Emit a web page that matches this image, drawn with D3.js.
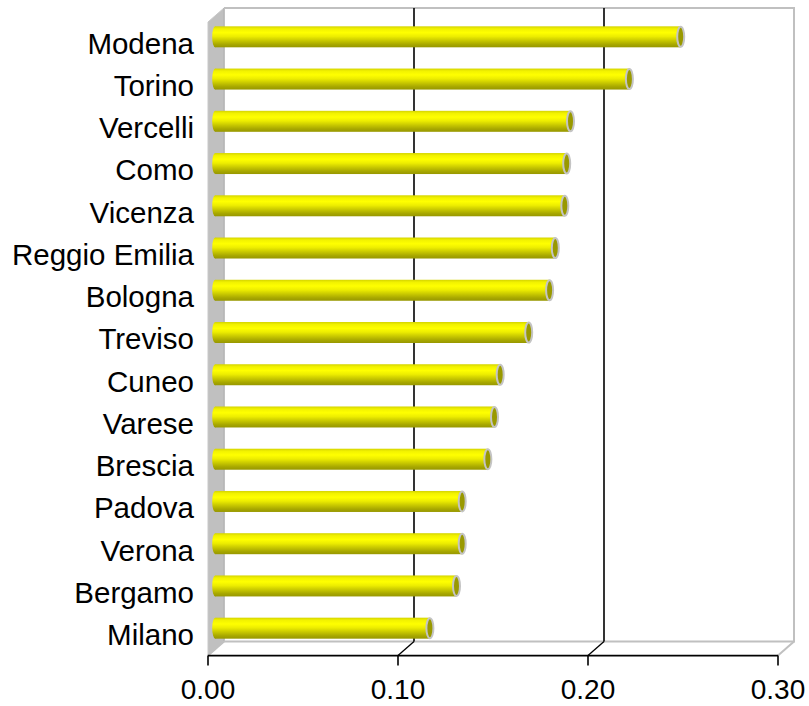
<!DOCTYPE html>
<html>
<head>
<meta charset="utf-8">
<script src="https://cdn.jsdelivr.net/npm/d3@7"></script>
<style>
  html, body { margin: 0; padding: 0; background: #fff; }
  svg { display: block; }
  text { font-family: "Liberation Sans", Arial, sans-serif; fill: #000; }
</style>
</head>
<body>
<svg id="chart" width="809" height="706"></svg>
<script>
// Province values (top to bottom)
const categories = ["Modena", "Torino", "Vercelli", "Como", "Vicenza", "Reggio Emilia",
  "Bologna", "Treviso", "Cuneo", "Varese", "Brescia", "Padova", "Verona", "Bergamo", "Milano"];
const values = [0.245, 0.218, 0.187, 0.185, 0.184, 0.179, 0.176, 0.165, 0.150, 0.147,
  0.1435, 0.130, 0.130, 0.127, 0.113];
const tickValues = [0.00, 0.10, 0.20, 0.30];

const svg = d3.select("#chart");

// Back plane of the 3D box
const back = { left: 224, right: 794, top: 8, bottom: 641.6 };
// Depth offset: front plane is shifted left/down
const depth = { dx: -16, dy: 14 };

const x = d3.scaleLinear().domain([0, 0.30]).range([back.left, back.right]);
const y = d3.scaleBand().domain(categories).range([back.top, back.bottom]).paddingInner(0).paddingOuter(0);

// project a back-plane point to a given depth fraction (0 = back, 1 = front)
const P = (px, py, f) => [px + depth.dx * f, py + depth.dy * f];

const defs = svg.append("defs");
const grad = defs.append("linearGradient").attr("id", "cyl")
  .attr("x1", 0).attr("y1", 0).attr("x2", 0).attr("y2", 1);
[[0, "#d4d400"], [0.12, "#f2f200"], [0.3, "#ffff00"], [0.48, "#eded00"],
 [0.68, "#c8c800"], [0.86, "#a8a800"], [1, "#979700"]].forEach(([o, c]) =>
  grad.append("stop").attr("offset", o).attr("stop-color", c));

// Left side wall
const wall = [P(back.left, back.top, 0), P(back.left, back.bottom, 0),
  P(back.left, back.bottom, 1), P(back.left, back.top, 1)];
svg.append("polygon").attr("points", wall.map(p => p.join(",")).join(" "))
  .attr("fill", "#c0c0c0").attr("stroke", "#c8c8c8").attr("stroke-width", 1);
svg.append("line")
  .attr("x1", back.left).attr("x2", back.left)
  .attr("y1", back.top).attr("y2", back.bottom)
  .attr("stroke", "#b4b4b4").attr("stroke-width", 1.5);

// Back wall outline (top and right edges) and floor back edge
svg.append("path")
  .attr("d", `M${back.left},${back.top}H${back.right}V${back.bottom}H${back.left}`)
  .attr("fill", "none").attr("stroke", "#c0c0c0").attr("stroke-width", 2);

// Gridlines on the back wall and floor
const inner = tickValues.filter(v => v > 0 && v < 0.30);
inner.forEach(v => {
  const bx = x(v);
  svg.append("line").attr("x1", bx).attr("x2", bx)
    .attr("y1", back.top).attr("y2", back.bottom)
    .attr("stroke", "#000").attr("stroke-width", 1.6);
});
tickValues.forEach(v => {
  const a = P(x(v), back.bottom, 0), b = P(x(v), back.bottom, 1);
  const edge = (v === 0 || v === 0.30);
  svg.append("line").attr("x1", a[0]).attr("y1", a[1]).attr("x2", b[0]).attr("y2", b[1])
    .attr("stroke", edge ? "#c0c0c0" : "#000").attr("stroke-width", edge ? 2 : 1.3);
});

// Front axis line with ticks
const front = P(0, back.bottom, 1)[1];
const xf = v => x(v) + depth.dx;
svg.append("line").attr("x1", xf(0)).attr("x2", xf(0.30))
  .attr("y1", front).attr("y2", front).attr("stroke", "#000").attr("stroke-width", 1.6);
const xAxis = svg.append("g");
xAxis.selectAll("line.tick").data(tickValues).join("line")
  .attr("x1", d => xf(d)).attr("x2", d => xf(d))
  .attr("y1", front).attr("y2", front + 10)
  .attr("stroke", "#000").attr("stroke-width", 1.6);
xAxis.selectAll("text").data(tickValues).join("text")
  .attr("x", d => xf(d)).attr("y", 699)
  .attr("text-anchor", "middle").attr("font-size", 28)
  .text(d => d3.format(".2f")(d));

// Category labels (front plane)
svg.append("g").selectAll("text").data(categories).join("text")
  .attr("x", 194)
  .attr("y", d => y(d) + y.bandwidth() / 2 + depth.dy + 10.5)
  .attr("text-anchor", "end").attr("font-size", 29.5)
  .text(d => d);

// Cylinder bars at mid depth
const r = 10.5;
const bars = svg.append("g").selectAll("g").data(categories).join("g")
  .attr("transform", (d, i) => {
    const [px, py] = P(0, y(d) + y.bandwidth() / 2, 0.55);
    return `translate(${px},${py})`;
  });
bars.append("ellipse")
  .attr("cx", x(0)).attr("cy", 0).attr("rx", 3).attr("ry", r)
  .attr("fill", "url(#cyl)");
bars.append("rect")
  .attr("x", x(0)).attr("y", -r)
  .attr("width", (d, i) => x(values[i]) - x(0))
  .attr("height", 2 * r)
  .attr("fill", "url(#cyl)");
bars.append("ellipse")
  .attr("cx", (d, i) => x(values[i])).attr("cy", 0)
  .attr("rx", 3.5).attr("ry", r - 0.5)
  .attr("fill", "#999900").attr("stroke", "#c4c4c4").attr("stroke-width", 2);
</script>
</body>
</html>
